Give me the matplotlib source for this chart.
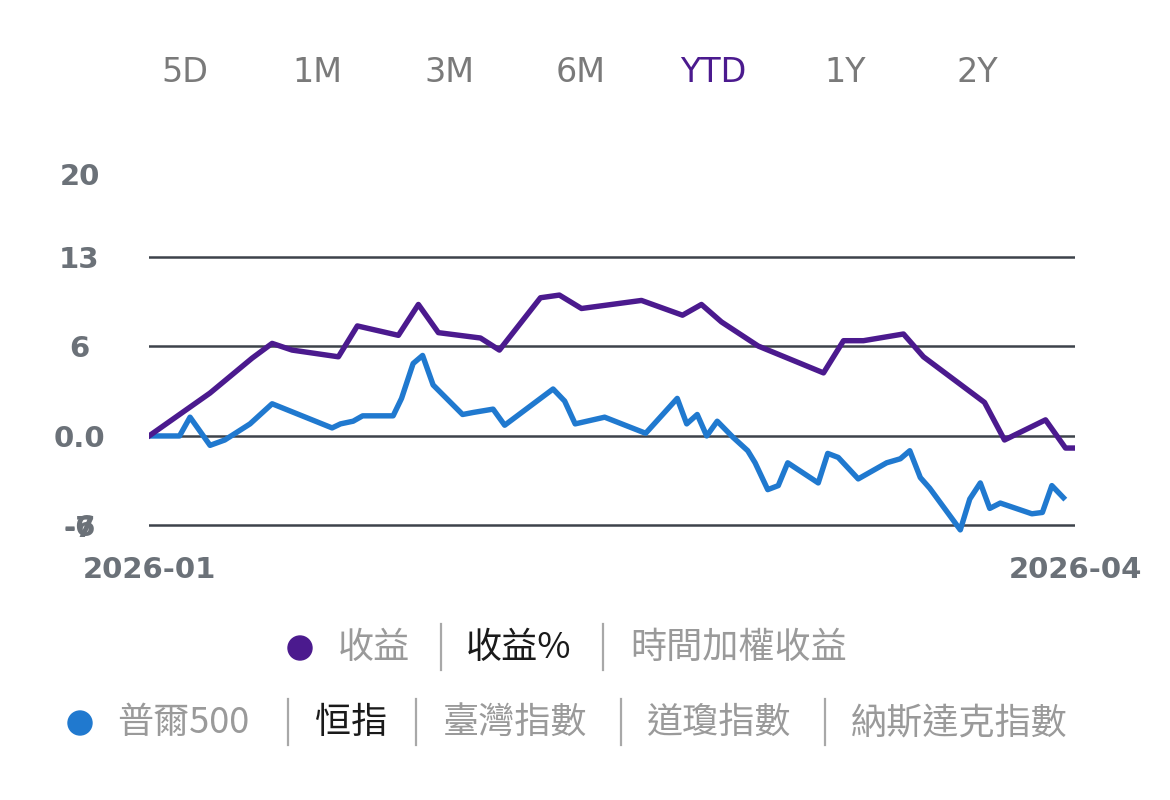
import matplotlib
matplotlib.use("Agg")
import matplotlib.pyplot as plt
from matplotlib.lines import Line2D
from matplotlib.patches import Ellipse

# days since 2026-01-02, cumulative return (%)
profit_days = [0, 5.8, 9.8, 11.7, 13.6, 18.0, 19.8, 23.7, 25.6, 27.5, 31.5, 33.3, 37.2, 39.0,
               41.1, 46.8, 50.7, 52.5, 54.4, 57.9, 64.1, 66.0, 67.9, 71.7, 73.6, 79.4, 81.3,
               85.2, 87.1, 88.0]
profit_pct = [0.0, 3.2, 5.8, 6.9, 6.4, 5.9, 8.2, 7.5, 9.8, 7.7, 7.3, 6.4, 10.3, 10.5,
              9.5, 10.1, 9.0, 9.8, 8.5, 6.7, 4.7, 7.1, 7.1, 7.6, 5.9, 2.5, -0.3,
              1.2, -0.9, -0.9]

sp500_days = [0, 2.9, 3.9, 5.8, 7.2, 9.6, 11.7, 17.4, 18.2, 19.4, 20.3, 23.2, 24.0, 25.1,
              26.0, 27.0, 29.8, 30.8, 32.7, 33.8, 38.4, 39.5, 40.5, 43.3, 47.2, 50.2, 51.1,
              52.1, 53.0, 54.0, 55.5, 56.9, 57.6, 58.8, 59.8, 60.7, 63.6, 64.5, 65.5, 67.4,
              70.1, 71.4, 72.3, 73.3, 74.2, 77.1, 78.0, 79.0, 79.9, 80.9, 83.9, 84.9, 85.8,
              86.9]
sp500_pct = [0.0, 0.0, 1.4, -0.7, -0.3, 0.9, 2.4, 0.6, 0.9, 1.1, 1.5, 1.5, 2.8, 5.4,
             6.0, 3.8, 1.6, 1.75, 2.0, 0.8, 3.5, 2.6, 0.9, 1.4, 0.2, 2.8, 0.9,
             1.6, 0.0, 1.1, -0.1, -1.1, -2.0, -4.0, -3.7, -2.0, -3.5, -1.3, -1.6, -3.2,
             -2.0, -1.7, -1.1, -3.1, -3.9, -7.0, -4.7, -3.5, -5.4, -5.0, -5.8, -5.7, -3.7,
             -4.6]

grid_vals = [-6.67, 0, 6.67, 13.33]
ytick_vals = [-6.67, 0, 6.67, 13.33, 19.5]
ytick_labels = ["-6", "0.0", "6", "13", "20"]
xtick_vals = [0, 88]
xtick_labels = ["2026-01", "2026-04"]

tabs = ["5D", "1M", "3M", "6M", "YTD", "1Y", "2Y"]
row1 = [("收益", "#9a9a9a"), ("收益%", "#1a1a1a"), ("時間加權收益", "#9a9a9a")]
row2 = [("普爾500", "#9a9a9a"), ("恒指", "#1a1a1a"), ("臺灣指數", "#9a9a9a"),
        ("道瓊指數", "#9a9a9a"), ("納斯達克指數", "#9a9a9a")]

purple = "#4b1a8e"
blue = "#2079cf"
label_gray = "#6b7178"

plt.rcParams['font.family'] = ['Noto Sans CJK TC', 'DejaVu Sans']

fig = plt.figure(figsize=(11.7, 8), dpi=100)
fig.patch.set_facecolor("white")
ax = fig.add_axes([149 / 1170, 1 - 536.6 / 800, 926 / 1170, 369 / 800])

for g in grid_vals:
    ax.axhline(g, color="#3d434a", lw=1.8, zorder=1)

ax.plot(sp500_days, sp500_pct, color=blue, lw=3.9, solid_joinstyle="round", zorder=3)
ax.plot(profit_days, profit_pct, color=purple, lw=3.9, solid_joinstyle="round", zorder=4)

ax.set_xlim(0, 88)
ax.set_ylim(-7.5, 20)
for s in ax.spines.values():
    s.set_visible(False)

ax.set_yticks(ytick_vals)
ax.set_yticklabels(ytick_labels, family="DejaVu Sans", fontweight="bold",
                   fontsize=21, color=label_gray, ha="center")
ax.tick_params(axis="y", length=0, pad=50)
# second, overlapping bottom label as in the original
ax.text(-69 / 926, -6.95, "-7", transform=ax.get_yaxis_transform(),
        family="DejaVu Sans", fontweight="bold", fontsize=21,
        color=label_gray, ha="center", va="center", clip_on=False)

ax.set_xticks(xtick_vals)
ax.set_xticklabels(xtick_labels, family="DejaVu Sans", fontweight="bold",
                   fontsize=21, color=label_gray, ha="center")
ax.tick_params(axis="x", length=0, pad=14)

# period tabs
for i, t in enumerate(tabs):
    fig.text((185 + 132 * i) / 1170, 1 - 73 / 800, t, family="DejaVu Sans",
             fontsize=24, color=purple if t == "YTD" else "#7a7a7a",
             ha="center", va="center")

# legend rows
def legend_row(y, dot_x, dot_color, items, starts, seps):
    fig.add_artist(Ellipse((dot_x / 1170, 1 - y / 800), 24 / 1170, 24 / 800,
                           transform=fig.transFigure, color=dot_color))
    for (txt, col), x0 in zip(items, starts):
        fig.text(x0 / 1170, 1 - y / 800, txt, fontsize=26, color=col,
                 ha="left", va="center", fontweight="light")
    for sx in seps:
        fig.add_artist(Line2D([sx / 1170, sx / 1170], [1 - (y - 24) / 800, 1 - (y + 22) / 800],
                              transform=fig.transFigure, color="#a8a8a8", lw=1.6))

legend_row(648, 300, purple, row1, [338, 466, 630], [441, 603])
legend_row(723, 80, blue, row2, [117, 315, 443, 647, 851], [288, 416, 621, 825])

fig.savefig("out.png", dpi=100, facecolor="white")
